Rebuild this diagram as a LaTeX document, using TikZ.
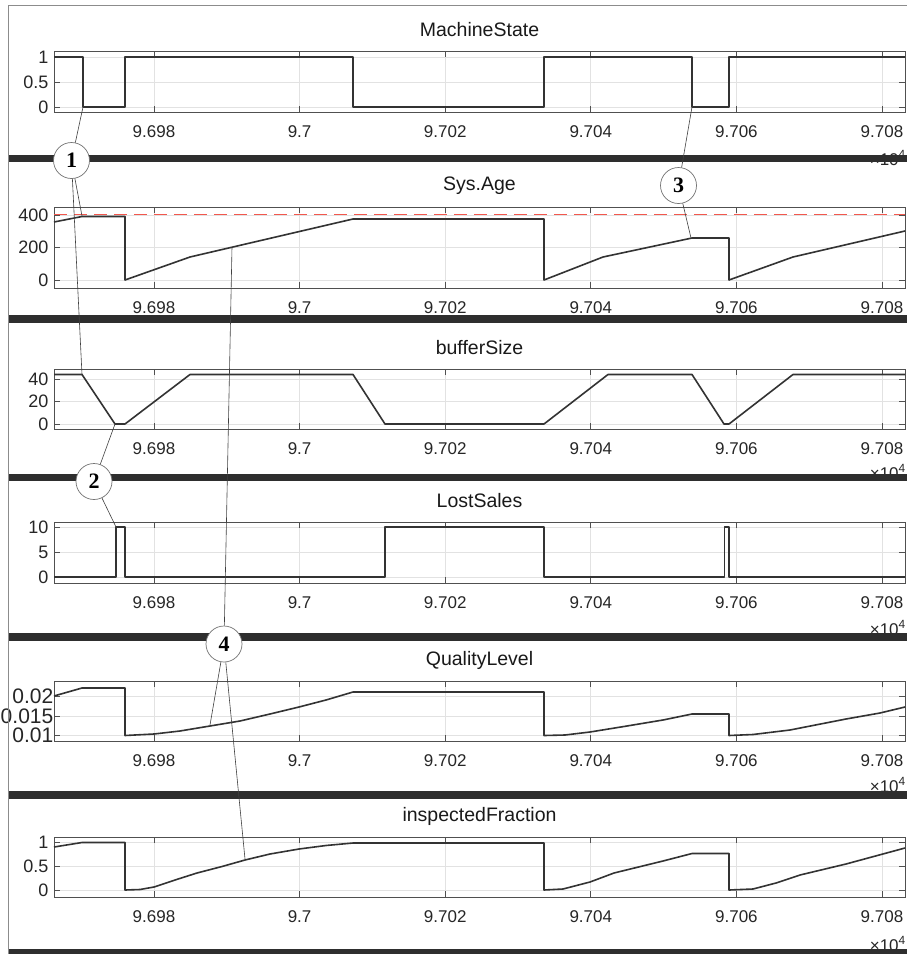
\documentclass[tikz,border=0pt]{standalone}
\usepackage{fontspec}
\setmainfont{Liberation Sans}
\newfontfamily\numfont{Liberation Serif}
\usetikzlibrary{positioning}
\definecolor{sigcol}{HTML}{333333}
\definecolor{gridcol}{HTML}{E2E2E2}
\definecolor{boxcol}{HTML}{505050}
\definecolor{barcol}{HTML}{2E2E2E}
\definecolor{limcol}{HTML}{F2574D}
\tikzset{
  sig/.style={sigcol, line width=1.6pt, line join=round},
  lead/.style={draw=black!75, line width=0.6pt},
  callout/.style={circle, draw=black!55, fill=white, line width=0.7pt, minimum size=36pt, inner sep=0pt, font=\numfont\bfseries\fontsize{22}{22}\selectfont},
  ttl/.style={font=\fontsize{19.5}{20}\selectfont, text=black!90, inner sep=0pt},
  xlab/.style={font=\fontsize{17}{17}\selectfont, text=black!85, anchor=base, inner sep=0pt},
  ylab/.style={font=\fontsize{18}{18}\selectfont, text=black!85, anchor=east, inner sep=0pt},
}
% box, x grid, x ticks and title of one panel: top, bottom, title
\newcommand{\axbox}[3]{%
  \foreach \k/\lab in {0/9.698,1/9.7,2/9.702,3/9.704,4/9.706,5/9.708} {
    \draw[gridcol, line width=0.8pt] (154+145.6*\k,#1) -- (154+145.6*\k,#2);
    \draw[boxcol, line width=0.8pt] (154+145.6*\k,#1) -- ++(0,6) (154+145.6*\k,#2) -- ++(0,-6);
    \node[xlab] at (154+145.6*\k,#2+25) {\lab};
  }
  \draw[boxcol, line width=1pt] (54,#1) rectangle (905,#2);
  \node[ttl] at (479.5,#1-21) {#3};
}
% y grid, y ticks and labels: list of y/label
\newcommand{\yaxis}[2][ylab]{%
  \foreach \y/\lab in {#2} {
    \draw[gridcol, line width=0.8pt] (54,\y) -- (905,\y);
    \draw[boxcol, line width=0.8pt] (54,\y) -- ++(6,0) (905,\y) -- ++(-6,0);
    \node[#1] at (48.5,\y) {\lab};
  }
}
\begin{document}
\begin{tikzpicture}[x=1pt,y=-1pt]
  \clip (0,0) rectangle (907,954);
  \fill[white] (0,0) rectangle (907,954);

  % MachineState
  \yaxis{57/1,82/0.5,107/0}
  \axbox{51}{112}{MachineState}
  \draw[sig] (54,57) -- (83,57) -- (83,107) -- (125,107) -- (125,57) -- (353,57) -- (353,107) -- (544,107)
    -- (544,57) -- (692,57) -- (692,107) -- (729,107) -- (729,57) -- (905,57);

  % Sys.Age
  \yaxis{215/400,247.5/200,280/0}
  \axbox{207}{288}{Sys.Age}
  \draw[limcol, line width=1.8pt, dash pattern=on 13pt off 7pt] (54,214.5) -- (905,214.5);
  \draw[sig] (54,222) -- (82,216.5) -- (125,216.5) -- (125,280) -- (190,257) -- (353,219) -- (544,219)
    -- (544,280) -- (603,257) -- (692,238) -- (729,238) -- (729,280) -- (793,257) -- (905,231);

  % bufferSize
  \yaxis{379/40,401.5/20,424/0}
  \axbox{369}{429}{bufferSize}
  \draw[sig] (54,374.5) -- (82,374.5) -- (115,424) -- (125,424) -- (190,374.5) -- (353,374.5) -- (385,424)
    -- (544,424) -- (608,374.5) -- (692,374.5) -- (724,424) -- (729,424) -- (793,374.5) -- (905,374.5);

  % LostSales
  \yaxis{527/10,552/5,577/0}
  \axbox{522}{583}{LostSales}
  \draw[sig] (54,577) -- (116,577) -- (116,527) -- (125,527) -- (125,577) -- (385,577) -- (385,527) -- (544,527)
    -- (544,577) -- (724.5,577) -- (724.5,527) -- (729,527) -- (729,577) -- (905,577);

  % QualityLevel
  \yaxis[ylab, font=\fontsize{21}{21}\selectfont, xshift=5pt]{696.5/0.02,716/0.015,735.5/0.01}
  \axbox{681}{741}{QualityLevel}
  \draw[sig] (54,696) -- (82,688) -- (125,688) -- (125,735.5) -- (154,734) -- (180,731) -- (210,726) -- (240,721)
    -- (270,714) -- (299,707) -- (326,700) -- (353,692) -- (544,692) -- (544,735.5) -- (565,735) -- (590,732)
    -- (627,726) -- (663,720) -- (692,714) -- (729,714) -- (729,735.5) -- (753,734.5) -- (790,730) -- (846,719)
    -- (880,713) -- (905,707);

  % inspectedFraction
  \yaxis{842/1,866/0.5,890/0}
  \axbox{837}{897}{inspectedFraction}
  \draw[sig] (54,847) -- (82,842.5) -- (125,842.5) -- (125,890) -- (140,889.5) -- (154,887) -- (175,880) -- (197,873)
    -- (222,866.5) -- (245,860) -- (270,854) -- (299,849) -- (326,845.5) -- (353,843) -- (544,843) -- (544,890)
    -- (563,889) -- (590,882) -- (614,873) -- (663,861) -- (692,853.5) -- (729,853.5) -- (729,890) -- (753,889)
    -- (776,883) -- (800,875) -- (846,864) -- (905,848);

  % x10^4 marks, partly under the bars
  \foreach \yb in {165,479,635,792,951}
    \node[xlab, anchor=base east] at (906,\yb) {×10\textsuperscript{4}};

  % separator bars and frame
  \foreach \yb in {158.5,319,477.5,637,795,952.5}
    \fill[barcol] (8,\yb-3.6) rectangle (907,\yb+3.6);
  \draw[black!45, line width=1.5pt] (8.5,954) -- (8.5,5.5) -- (907,5.5);

  % callouts
  \node[callout] (one) at (71.5,160.5) {1};
  \node[callout] (two) at (94,481.5) {2};
  \node[callout] (three) at (678.5,185.5) {3};
  \node[callout] (four) at (224,644) {4};
  \coordinate (msA) at (83,107);
  \coordinate (saA) at (82,216);
  \coordinate (bsA) at (82,374.5);
  \coordinate (bsB) at (115,424);
  \coordinate (lsB) at (116,527);
  \coordinate (msC) at (692,107);
  \coordinate (saC) at (691,238);
  \coordinate (saD) at (232,247);
  \coordinate (qlD) at (210,725);
  \coordinate (ifD) at (245,859);
  \draw[lead] (one) -- (msA) (one) -- (saA) (one) -- (bsA);
  \draw[lead] (two) -- (bsB) (two) -- (lsB);
  \draw[lead] (three) -- (msC) (three) -- (saC);
  \draw[lead] (four) -- (saD) (four) -- (qlD) (four) -- (ifD);
\end{tikzpicture}
\end{document}
